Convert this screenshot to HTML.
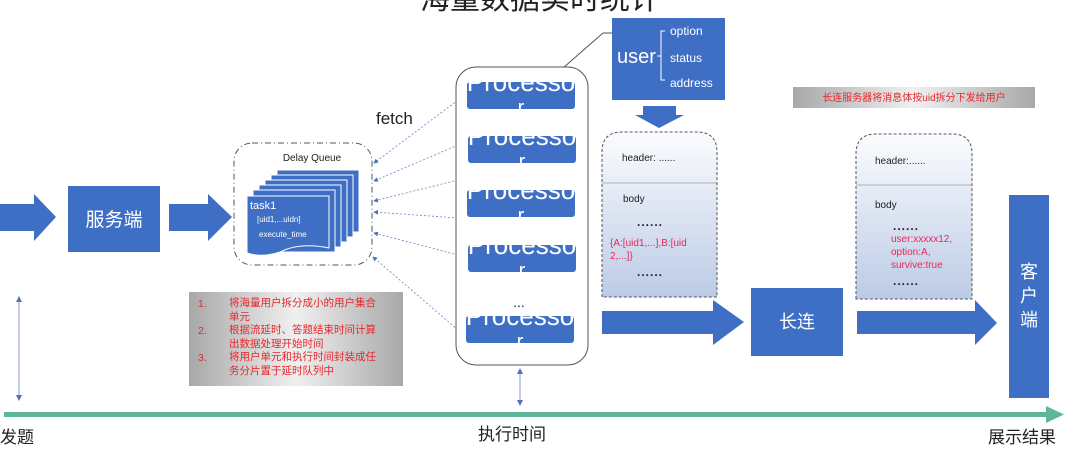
<!DOCTYPE html>
<html><head><meta charset="utf-8"><style>
html,body{margin:0;padding:0;background:#fff;}
svg{display:block;font-family:"Liberation Sans","Noto Sans CJK SC",sans-serif;}
</style></head><body>
<svg width="1080" height="454" viewBox="0 0 1080 454" xmlns="http://www.w3.org/2000/svg">
<defs>
<linearGradient id="gb" x1="0" y1="0" x2="0" y2="1"><stop offset="0" stop-color="#fbfcfe"/><stop offset="1" stop-color="#bccbe6"/></linearGradient>
<linearGradient id="gg" x1="0" y1="0" x2="1" y2="0"><stop offset="0" stop-color="#a8a8a8"/><stop offset="0.5" stop-color="#f0f0f0"/><stop offset="1" stop-color="#a8a8a8"/></linearGradient>
<marker id="ah" markerWidth="6" markerHeight="6" refX="5" refY="3" orient="auto"><path d="M0,0 L6,3 L0,6z" fill="#4a6fb8"/></marker>
<marker id="ah2" markerWidth="6" markerHeight="6" refX="3" refY="3" orient="auto-start-reverse"><path d="M0,0 L6,3 L0,6z" fill="#5a6fb8"/></marker>
<clipPath id="p1"><rect x="467" y="82" width="108" height="27" rx="3"/></clipPath>
<clipPath id="p2"><rect x="468" y="136" width="108" height="27" rx="3"/></clipPath>
<clipPath id="p3"><rect x="467" y="190" width="108" height="27" rx="3"/></clipPath>
<clipPath id="p4"><rect x="468" y="245" width="108" height="27" rx="3"/></clipPath>
<clipPath id="p5"><rect x="466" y="316" width="108" height="27" rx="3"/></clipPath>
</defs>
<text x="540" y="9" font-size="30" text-anchor="middle" fill="#222">海量数据实时统计</text>

<path d="M0,204 H34 V194 L56,217 L34,241 V231 H0z" fill="#3e6fc4"/>
<rect x="68" y="186" width="92" height="66" fill="#3e6fc4"/>
<text x="114" y="226" font-size="19" fill="#fff" text-anchor="middle">服务端</text>
<path d="M169,204 H208 V194 L232,217 L208,241 V231 H169z" fill="#3e6fc4"/>

<rect x="234" y="143" width="138" height="122" rx="18" fill="#fff" stroke="#555" stroke-dasharray="6,3,1,3"/>
<text x="312" y="161" font-size="10" fill="#222" text-anchor="middle">Delay Queue</text>
<g fill="#3e6fc4" stroke="#fff" stroke-width="1">
<rect x="277" y="170" width="82" height="62"/>
<rect x="271" y="175" width="82" height="62"/>
<rect x="265" y="180" width="82" height="62"/>
<rect x="259" y="185" width="82" height="62"/>
<rect x="253" y="190" width="82" height="62"/>
<path d="M247,196 H329 V248 Q300,242 280,252 Q262,258 247,253z"/>
</g>
<text x="250" y="209" font-size="11" fill="#fff">task1</text>
<text x="257" y="222" font-size="8" fill="#fff">[uid1,...uidn]</text>
<text x="259" y="237" font-size="8" fill="#fff">execute_time</text>

<text x="376" y="124" font-size="17" fill="#222">fetch</text>
<g stroke="#6a86c4" stroke-width="0.8" stroke-dasharray="2,2" marker-end="url(#ah)" fill="none">
<line x1="458" y1="100" x2="374" y2="163"/>
<line x1="458" y1="145" x2="374" y2="181"/>
<line x1="458" y1="180" x2="374" y2="201"/>
<line x1="458" y1="218" x2="374" y2="212"/>
<line x1="458" y1="255" x2="374" y2="233"/>
<line x1="458" y1="330" x2="373" y2="257"/>
</g>

<rect x="189" y="292" width="214" height="94" fill="url(#gg)"/>
<g font-size="10.5" fill="#e8262b">
<text x="198" y="307">1.</text><text x="229" y="306">将海量用户拆分成小的用户集合</text>
<text x="229" y="320">单元</text>
<text x="198" y="334">2.</text><text x="229" y="333">根据流延时、答题结束时间计算</text>
<text x="229" y="347">出数据处理开始时间</text>
<text x="198" y="361">3.</text><text x="229" y="360">将用户单元和执行时间封装成任</text>
<text x="229" y="374">务分片置于延时队列中</text>
</g>

<line x1="563" y1="68" x2="603" y2="33" stroke="#555"/>
<line x1="603" y1="33" x2="612" y2="33" stroke="#555"/>
<rect x="456" y="67" width="132" height="298" rx="20" fill="#fff" stroke="#555"/>
<g fill="#3e6fc4">
<rect x="467" y="82" width="108" height="27" rx="3"/>
<rect x="468" y="136" width="108" height="27" rx="3"/>
<rect x="467" y="190" width="108" height="27" rx="3"/>
<rect x="468" y="245" width="108" height="27" rx="3"/>
<rect x="466" y="316" width="108" height="27" rx="3"/>
</g>
<g fill="#fff" font-size="26" text-anchor="middle">
<g clip-path="url(#p1)"><text x="521" y="91">Processo</text><text x="521" y="114" font-size="20">r</text></g>
<g clip-path="url(#p2)"><text x="522" y="145">Processo</text><text x="522" y="168" font-size="20">r</text></g>
<g clip-path="url(#p3)"><text x="521" y="199">Processo</text><text x="521" y="222" font-size="20">r</text></g>
<g clip-path="url(#p4)"><text x="522" y="254">Processo</text><text x="522" y="277" font-size="20">r</text></g>
<g clip-path="url(#p5)"><text x="520" y="325">Processo</text><text x="520" y="348" font-size="20">r</text></g>
</g>
<text x="519" y="307" font-size="14" fill="#222" text-anchor="middle">...</text>
<line x1="520" y1="371" x2="520" y2="403" stroke="#8a9ad0" marker-start="url(#ah2)" marker-end="url(#ah2)"/>
<line x1="19" y1="299" x2="19" y2="398" stroke="#8a9ad0" marker-start="url(#ah2)" marker-end="url(#ah2)"/>

<rect x="612" y="18" width="113" height="82" fill="#3e6fc4"/>
<text x="617" y="63" font-size="20" fill="#fff">user</text>
<path d="M665,31 H661 V80 H665 M657,56 H661" stroke="#fff" fill="none"/>
<g fill="#fff" font-size="12"><text x="670" y="35">option</text><text x="670" y="62">status</text><text x="670" y="87">address</text></g>
<path d="M643,106 H676 V115 H684 L659,128 L635,115 H643z" fill="#3e6fc4"/>

<path d="M602,297 V152 Q602,132 622,132 H697 Q717,132 717,152 V297z" fill="url(#gb)" stroke="#555" stroke-dasharray="3,2"/>
<line x1="602" y1="183" x2="717" y2="183" stroke="#777" stroke-width="0.6"/>
<text x="622" y="161" font-size="10" fill="#222">header: ......</text>
<text x="623" y="202" font-size="10" fill="#222">body</text>
<text x="637" y="226" font-size="12" fill="#222" letter-spacing="1" font-weight="bold">......</text>
<text x="610" y="246" font-size="10" fill="#e8265a">{A:[uid1,...],B:[uid</text>
<text x="610" y="259" font-size="10" fill="#e8265a">2,...]}</text>
<text x="637" y="276" font-size="12" fill="#222" letter-spacing="1" font-weight="bold">......</text>

<path d="M602,311 H713 V300 L744,322 L713,345 V334 H602z" fill="#3e6fc4"/>
<rect x="751" y="288" width="92" height="68" fill="#3e6fc4"/>
<text x="797" y="328" font-size="18" fill="#fff" text-anchor="middle">长连</text>

<rect x="793" y="87" width="242" height="21" fill="url(#gg)"/>
<text x="914" y="101" font-size="10" fill="#e8262b" text-anchor="middle">长连服务器将消息体按uid拆分下发给用户</text>

<path d="M856,299 V154 Q856,134 876,134 H952 Q972,134 972,154 V299z" fill="url(#gb)" stroke="#555" stroke-dasharray="3,2"/>
<line x1="856" y1="185" x2="972" y2="185" stroke="#777" stroke-width="0.6"/>
<text x="875" y="164" font-size="10" fill="#222">header:......</text>
<text x="875" y="208" font-size="10" fill="#222">body</text>
<text x="893" y="230" font-size="12" fill="#222" letter-spacing="1" font-weight="bold">......</text>
<g font-size="10" fill="#e8265a"><text x="891" y="242">user:xxxxx12,</text><text x="891" y="255">option:A,</text><text x="891" y="268">survive:true</text></g>
<text x="893" y="285" font-size="12" fill="#222" letter-spacing="1" font-weight="bold">......</text>

<path d="M857,311 H975 V300 L997,323 L975,345 V334 H857z" fill="#3e6fc4"/>
<rect x="1009" y="195" width="40" height="203" fill="#3e6fc4"/>
<g fill="#fff" font-size="18" text-anchor="middle"><text x="1029" y="278">客</text><text x="1029" y="302">户</text><text x="1029" y="326">端</text></g>

<rect x="4" y="412" width="1046" height="5" fill="#5db59a"/>
<path d="M1046,406 L1064,414.5 L1046,423z" fill="#5db59a"/>
<text x="0" y="443" font-size="17" fill="#222">发题</text>
<text x="478" y="440" font-size="17" fill="#222">执行时间</text>
<text x="988" y="443" font-size="17" fill="#222">展示结果</text>
</svg>
</body></html>
